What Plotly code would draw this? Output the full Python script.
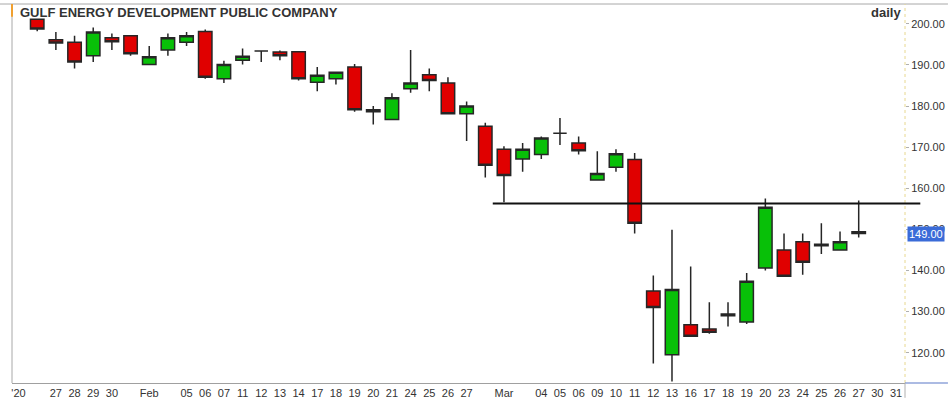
import plotly.graph_objects as go

# ---------------- data ----------------
tick_labels = ["'20", "", "27", "28", "29", "30", "", "Feb", "", "05", "06", "07",
               "11", "12", "13", "14", "17", "18", "19", "20", "21", "24", "25", "26",
               "27", "", "Mar", "", "04", "05", "06", "09", "10", "11", "12", "13",
               "16", "17", "18", "19", "20", "23", "24", "25", "26", "27", "30", "31"]

candle_slots = list(range(1, 46))
opens = [201.1, 196.1, 195.5, 192.2, 196.6, 197.1, 190.1, 193.6, 195.5, 198.1,
         186.6, 191.1, 193.4, 193.1, 193.2, 185.8, 186.6, 189.5, 179.1, 176.7,
         184.2, 187.6, 185.6, 178.1, 175.1, 169.5, 167.1, 168.2, 173.4, 171.0,
         162.0, 165.1, 167.0, 135.0, 119.5, 126.8, 125.8, 129.0, 127.5, 140.6,
         145.0, 147.0, 146.0, 145.0, 149.4]
highs = [201.1, 198.0, 197.1, 199.1, 197.6, 197.1, 194.6, 197.6, 198.0, 198.6,
         191.0, 194.0, 193.4, 193.5, 193.2, 189.5, 188.2, 190.2, 180.0, 183.1,
         193.6, 189.1, 187.0, 181.1, 175.9, 170.2, 171.0, 172.6, 177.1, 172.6,
         169.0, 169.5, 168.6, 138.8, 149.9, 141.0, 132.3, 132.3, 139.4, 157.5,
         149.0, 149.0, 151.5, 149.5, 157.0]
lows = [198.2, 193.6, 189.1, 190.7, 193.6, 192.2, 190.1, 192.2, 194.6, 186.6,
        185.6, 190.1, 190.7, 191.1, 186.2, 183.6, 185.2, 178.6, 175.5, 176.7,
        183.2, 183.6, 178.1, 171.5, 162.6, 156.6, 164.0, 167.1, 170.5, 168.2,
        162.0, 164.0, 149.0, 117.4, 113.0, 124.0, 124.6, 126.4, 127.0, 140.0,
        138.6, 139.0, 144.0, 145.0, 148.0]
closes = [198.7, 195.3, 190.7, 198.0, 195.6, 192.7, 192.0, 196.6, 197.1, 187.0,
          190.1, 192.1, 193.4, 192.2, 186.6, 187.5, 188.2, 179.1, 178.6, 182.0,
          185.6, 186.2, 178.1, 180.0, 165.6, 163.1, 169.5, 172.2, 173.4, 169.1,
          163.6, 168.4, 151.5, 131.0, 135.4, 124.0, 125.0, 129.4, 137.4, 155.4,
          138.6, 142.0, 146.4, 147.0, 149.0]

y_ticks = [120, 130, 140, 150, 160, 170, 180, 190, 200]
resistance_level = 156.3
resistance_from_slot = 25.4
resistance_to_slot = 48.3
last_price = closes[-1]

# ---------------- layout geometry ----------------
W, H = 949, 403
ML, MR, MT, MB = 12, 43, 4, 15
PW = W - ML - MR
PH = H - MT - MB
x_range = [-0.35, 47.48]
y_range = [112.65, 204.8]

def xpaper(slot):
    return (slot - x_range[0]) / (x_range[1] - x_range[0])

# split regular candles and dojis
reg = [i for i in range(len(opens)) if opens[i] != closes[i]]
doj = [i for i in range(len(opens)) if opens[i] == closes[i]]

def pick(arr, idx):
    return [arr[i] for i in idx]

GREEN = "#08c008"
RED = "#e00000"
EDGE = "#262626"

fig = go.Figure()
fig.add_trace(go.Candlestick(
    x=pick(candle_slots, reg), open=pick(opens, reg), high=pick(highs, reg),
    low=pick(lows, reg), close=pick(closes, reg),
    increasing=dict(fillcolor=GREEN, line=dict(color=EDGE, width=1.5)),
    decreasing=dict(fillcolor=RED, line=dict(color=EDGE, width=1.5)),
    whiskerwidth=0, showlegend=False, hoverinfo="skip"))
fig.add_trace(go.Candlestick(
    x=pick(candle_slots, doj), open=pick(opens, doj), high=pick(highs, doj),
    low=pick(lows, doj), close=pick(closes, doj),
    increasing=dict(fillcolor=EDGE, line=dict(color=EDGE, width=1.5)),
    decreasing=dict(fillcolor=EDGE, line=dict(color=EDGE, width=1.5)),
    whiskerwidth=0, showlegend=False, hoverinfo="skip"))

FONT = "Liberation Sans, Arial, sans-serif"

fig.update_layout(
    width=W, height=H,
    margin=dict(l=ML, r=MR, t=MT, b=MB, pad=0),
    paper_bgcolor="white", plot_bgcolor="white",
    boxgap=0.28, boxgroupgap=0,
    font=dict(family=FONT, size=11, color="#333333"),
    xaxis=dict(
        range=x_range, tickmode="array",
        tickvals=list(range(len(tick_labels))), ticktext=tick_labels,
        tickangle=0, ticks="", showgrid=False, zeroline=False,
        showline=True, linecolor="#a0a0a0", linewidth=1,
        rangeslider=dict(visible=False),
        tickfont=dict(family=FONT, size=11, color="#333333"),
        fixedrange=True),
    yaxis=dict(
        range=y_range, side="right", tickmode="array", tickvals=y_ticks,
        tickformat=".2f", ticks="outside", ticklen=3, tickcolor="#b0b0b0",
        showgrid=False, zeroline=False, showline=False,
        tickfont=dict(family=FONT, size=11, color="#333333"),
        fixedrange=True),
    shapes=[
        dict(type="line", xref="paper", yref="paper", x0=-ML / PW, x1=(W - ML) / PW,
             y0=1, y1=1, line=dict(color="#a8a8a8", width=1)),
        dict(type="line", xref="paper", yref="paper", x0=0, x1=0, y0=0, y1=1,
             line=dict(color="#a8a8a8", width=1)),
        dict(type="line", xref="paper", yref="paper", x0=0, x1=0, y0=1, y1=1 - 13 / PH,
             line=dict(color="#f0a030", width=2)),
        dict(type="line", xref="paper", yref="paper", x0=1, x1=1, y0=0, y1=1,
             line=dict(color="#e8d890", width=1, dash="dot")),
        dict(type="line", xref="paper", yref="paper", x0=1, x1=(W - ML) / PW,
             y0=0, y1=0, line=dict(color="#5a78c8", width=1.2)),
        dict(type="line", xref="paper", yref="paper", x0=1, x1=1, y0=0, y1=-MB / PH,
             line=dict(color="#b0b0b0", width=1)),
        dict(type="line", xref="paper", yref="y",
             x0=xpaper(resistance_from_slot), x1=xpaper(resistance_to_slot),
             y0=resistance_level, y1=resistance_level,
             line=dict(color="#111111", width=2)),
    ],
    annotations=[
        dict(text="<b>GULF ENERGY DEVELOPMENT PUBLIC COMPANY</b>", xref="paper", yref="paper",
             x=6 / PW, y=1, xanchor="left", yanchor="top", yshift=1, showarrow=False,
             font=dict(family=FONT, size=13, color="#333333")),
        dict(text="<b>daily</b>", xref="paper", yref="paper",
             x=1, y=1, xanchor="right", yanchor="top", xshift=-2, yshift=1, showarrow=False,
             font=dict(family=FONT, size=13, color="#333333")),
        dict(text=f"{last_price:.2f}", xref="paper", yref="y", x=1, y=last_price,
             xanchor="left", yanchor="middle", xshift=2, showarrow=False,
             bgcolor="#3a6bd8", borderpad=1,
             font=dict(family=FONT, size=11, color="white")),
    ],
)

fig.write_html("out.html", config={"displayModeBar": False},
               post_script="document.body.style.margin='0px';")
